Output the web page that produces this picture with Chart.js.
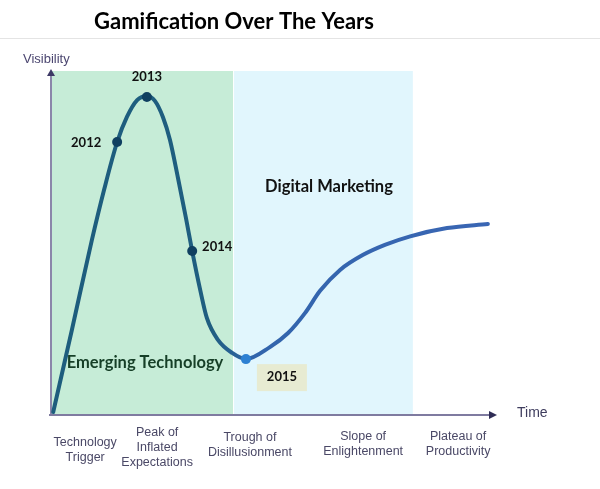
<!DOCTYPE html>
<html>
<head>
<meta charset="utf-8">
<script src="https://cdn.jsdelivr.net/npm/chart.js@4/dist/chart.umd.min.js"></script>
<style>
  html, body { margin: 0; padding: 0; background: #ffffff; }
  #wrap { width: 600px; height: 489px; position: relative; }
</style>
</head>
<body>
<div id="wrap"><canvas id="c" width="600" height="489"></canvas></div>
<script>
// ---------- DATA (x = time 0..100, y = visibility 0..100) ----------
const title = 'Gamification Over The Years';
const yAxisTitle = 'Visibility';
const xAxisTitle = 'Time';

const curveX = [0.5, 4.7, 9.2, 12.0, 14.9, 17.1, 19.4, 21.6, 23.4, 25.2, 26.8, 28.6, 30.4, 31.8, 33.6, 35.1, 37.6, 40.8, 43.9, 49.3, 53.4, 57.2, 60.6, 65.1, 70.3, 75.2, 80.9, 89.2, 98.4];
const curveY = [0.6, 24.5, 50.7, 65.6, 79.3, 86.6, 91.5, 92.7, 91.3, 86.6, 79.9, 68.8, 57.1, 47.5, 36.2, 28.0, 21.6, 17.8, 16.0, 19.5, 23.6, 29.4, 35.9, 42.0, 46.4, 49.3, 51.8, 54.2, 55.4];

const years = ['2012', '2013', '2014', '2015'];
const yearX = [14.9, 21.6, 31.8, 43.9];
const yearY = [79.3, 92.4, 47.5, 16.0];

const bandEdges = [0, 41.0, 81.5];
const bandNames = ['Emerging Technology', 'Digital Marketing'];

const phaseNames = [
  ['Technology', 'Trigger'],
  ['Peak of', 'Inflated', 'Expectations'],
  ['Trough of', 'Disillusionment'],
  ['Slope of', 'Enlightenment'],
  ['Plateau of', 'Productivity']
];
const phaseX = [7.7, 23.9, 44.8, 70.3, 91.7];

// ---------- LAYOUT / STYLE ----------
const phaseTopY = [443, 433, 438, 437, 437];   // pixel centre of first line
const yearLabelOffset = [[-31, 1], [0, -20], [25, -4], [36, 18]];
const yearColors = ['#0f3f60', '#0f3f60', '#0f3f60', '#2d80d2'];
const bandColors = ['#c6ecd7', '#e1f6fd'];
const bandLabelPos = [[145, 363], [329, 187]];
const bandLabelColors = ['#163f27', '#111111'];

const bg = {
  id: 'bg',
  beforeDraw(chart) {
    const c = chart.ctx;
    c.save();
    c.fillStyle = '#ffffff';
    c.fillRect(0, 0, chart.width, chart.height);
    // title
    c.fillStyle = '#000000';
    c.font = 'bold 22px Lato, "Open Sans", sans-serif';
    c.textAlign = 'center';
    c.textBaseline = 'middle';
    c.fillText(title, 234, 22);
    // separator line
    c.strokeStyle = '#e4e4e4';
    c.lineWidth = 1;
    c.beginPath();
    c.moveTo(0, 38.5);
    c.lineTo(600, 38.5);
    c.stroke();
    c.restore();
  },
  beforeDatasetsDraw(chart) {
    const c = chart.ctx;
    const xs = chart.scales.x, ys = chart.scales.y;
    const top = ys.getPixelForValue(100), bottom = ys.getPixelForValue(0);
    c.save();
    for (let i = 0; i < bandEdges.length - 1; i++) {
      const x0 = xs.getPixelForValue(bandEdges[i]) + 1;
      const x1 = xs.getPixelForValue(bandEdges[i + 1]);
      c.fillStyle = bandColors[i];
      c.fillRect(x0, top, x1 - x0, bottom - top);
    }
    // y axis
    const ax = xs.getPixelForValue(0);
    c.strokeStyle = '#8b86aa';
    c.lineWidth = 2;
    c.beginPath();
    c.moveTo(ax, bottom + 1);
    c.lineTo(ax, top + 4);
    c.stroke();
    c.fillStyle = '#3d3966';
    c.beginPath();
    c.moveTo(ax, top - 2);
    c.lineTo(ax - 4, top + 5);
    c.lineTo(ax + 4, top + 5);
    c.closePath();
    c.fill();
    // x axis
    const ay = bottom + 1;
    c.strokeStyle = '#7f7ba0';
    c.beginPath();
    c.moveTo(ax - 2, ay);
    c.lineTo(490, ay);
    c.stroke();
    c.fillStyle = '#2f2d55';
    c.beginPath();
    c.moveTo(497, ay);
    c.lineTo(489, ay - 4);
    c.lineTo(489, ay + 4);
    c.closePath();
    c.fill();
    // axis titles
    c.font = '13px "Liberation Sans", Arial, sans-serif';
    c.fillStyle = '#4b4670';
    c.textAlign = 'left';
    c.textBaseline = 'middle';
    c.fillText(yAxisTitle, 23, 59);
    c.font = '14px "Liberation Sans", Arial, sans-serif';
    c.fillStyle = '#3f3d5e';
    c.fillText(xAxisTitle, 517, 413);
    // phase labels
    c.font = '12.5px "Liberation Sans", Arial, sans-serif';
    c.fillStyle = '#4a4866';
    c.textAlign = 'center';
    phaseNames.forEach((lines, i) => {
      const px = xs.getPixelForValue(phaseX[i]);
      lines.forEach((ln, j) => c.fillText(ln, px, phaseTopY[i] + j * 15));
    });
    // band labels
    c.font = 'bold 16.5px Lato, "Open Sans", sans-serif';
    bandNames.forEach((n, i) => {
      c.fillStyle = bandLabelColors[i];
      c.fillText(n, bandLabelPos[i][0], bandLabelPos[i][1]);
    });
    c.restore();
  },
  afterDatasetsDraw(chart) {
    const c = chart.ctx;
    const xs = chart.scales.x, ys = chart.scales.y;
    c.save();
    c.textAlign = 'center';
    c.textBaseline = 'middle';
    c.font = 'bold 13px Lato, "Open Sans", sans-serif';
    years.forEach((yr, i) => {
      const px = xs.getPixelForValue(yearX[i]) + yearLabelOffset[i][0];
      const py = ys.getPixelForValue(yearY[i]) + yearLabelOffset[i][1];
      if (i === 3) {
        c.fillStyle = '#e7ebd2';
        c.fillRect(px - 25, py - 13, 50, 27);
      }
      c.fillStyle = '#111111';
      c.fillText(yr, px, py);
    });
    c.restore();
  }
};

function curveColor(ctx) {
  const chart = ctx.chart;
  const area = chart.chartArea;
  if (!area) return '#2a5f95';
  const g = chart.ctx.createLinearGradient(51, 0, 495, 0);
  g.addColorStop(0, '#1d5d7d');
  g.addColorStop(0.36, '#1f5e80');
  g.addColorStop(0.46, '#3265ac');
  g.addColorStop(1, '#3a66b4');
  return g;
}

new Chart(document.getElementById('c'), {
  type: 'scatter',
  data: {
    datasets: [
      {
        label: 'Years',
        data: yearX.map((x, i) => ({ x, y: yearY[i] })),
        showLine: false,
        pointRadius: 5,
        pointBackgroundColor: yearColors,
        pointBorderColor: yearColors,
        pointBorderWidth: 0,
        clip: false,
        order: 0
      },
      {
        label: 'Gamification',
        data: curveX.map((x, i) => ({ x, y: curveY[i] })),
        showLine: true,
        cubicInterpolationMode: 'monotone',
        borderColor: curveColor,
        borderWidth: 4,
        borderCapStyle: 'round',
        borderJoinStyle: 'round',
        pointRadius: 0,
        clip: false,
        order: 1
      }
    ]
  },
  options: {
    responsive: false,
    devicePixelRatio: 1,
    animation: false,
    layout: { padding: { left: 51, right: 105, top: 71, bottom: 75 } },
    scales: {
      x: { type: 'linear', min: 0, max: 100, display: false },
      y: { type: 'linear', min: 0, max: 100, display: false }
    },
    plugins: { legend: { display: false }, tooltip: { enabled: false } }
  },
  plugins: [bg]
});
</script>
</body>
</html>
